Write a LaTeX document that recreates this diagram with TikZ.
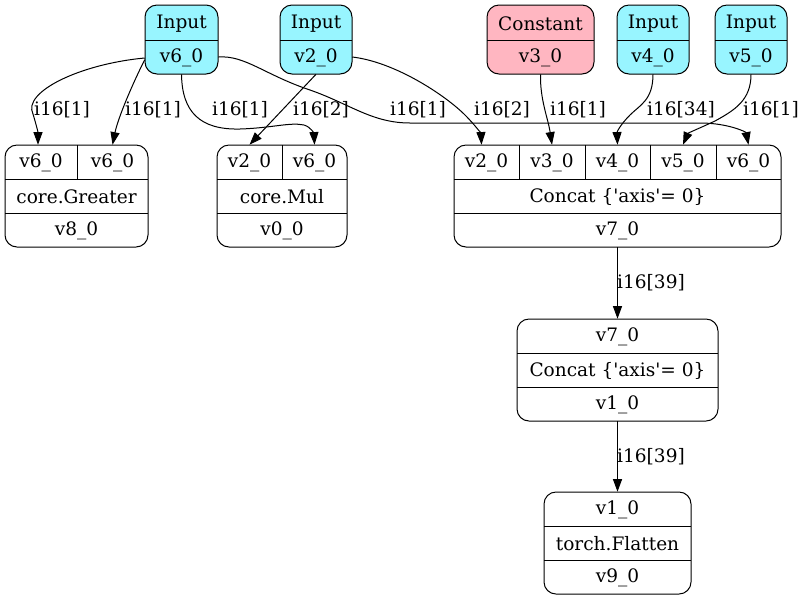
\documentclass[tikz,border=0pt]{standalone}
\usepackage{fontspec}
\setmainfont{DejaVu Serif}
\usetikzlibrary{fit,arrows.meta}

\definecolor{inputfill}{HTML}{98F5FF}
\definecolor{constfill}{HTML}{FFB6C1}

\newcommand{\cellfont}{\fontsize{13.9}{16}\selectfont}
\newcommand{\sq}{\textquotesingle}

\tikzset{
  box/.style={draw, line width=0.75pt, rounded corners=9pt, inner sep=0pt},
  cell/.style={inner sep=0pt, label={[inner sep=0pt, font=\cellfont, yshift=-0.6pt]center:#1}},
  lbl/.style={inner sep=0pt, font=\cellfont},
  sep/.style={line width=0.75pt},
  edge/.style={line width=0.75pt, -{Triangle[length=9.5pt,width=6.8pt]}},
}

\begin{document}
\begin{tikzpicture}[x=0.75pt,y=-0.75pt]
\useasboundingbox (0,0) rectangle (805,601);

% ---------- source nodes ----------
% Input v6_0
\node[box, fill=inputfill, fit={(145,5)(218,74)}] (in6) {};
\draw[sep] (145,40) -- (218,40);
\node[cell=Input, fit={(145,5)(218,40)}] (in6h) {};
\node[cell=v6\_0, fit={(145,40)(218,74)}] (in6v) {};

% Input v2_0
\node[box, fill=inputfill, fit={(280,5)(352,74)}] (in2) {};
\draw[sep] (280,40) -- (352,40);
\node[cell=Input, fit={(280,5)(352,40)}] (in2h) {};
\node[cell=v2\_0, fit={(280,40)(352,74)}] (in2v) {};

% Constant v3_0
\node[box, fill=constfill, fit={(487,5)(594,74)}] (cst) {};
\draw[sep] (487,40) -- (594,40);
\node[cell=Constant, fit={(487,5)(594,40)}] (csth) {};
\node[cell=v3\_0, fit={(487,40)(594,74)}] (cstv) {};

% Input v4_0
\node[box, fill=inputfill, fit={(617,5)(689,74)}] (in4) {};
\draw[sep] (617,40) -- (689,40);
\node[cell=Input, fit={(617,5)(689,40)}] (in4h) {};
\node[cell=v4\_0, fit={(617,40)(689,74)}] (in4v) {};

% Input v5_0
\node[box, fill=inputfill, fit={(715,5)(787,74)}] (in5) {};
\draw[sep] (715,40) -- (787,40);
\node[cell=Input, fit={(715,5)(787,40)}] (in5h) {};
\node[cell=v5\_0, fit={(715,40)(787,74)}] (in5v) {};

% ---------- core.Greater ----------
\node[box, fit={(5,145)(148,247)}] (gt) {};
\draw[sep] (5,179) -- (148,179) (5,213) -- (148,213) (77,145) -- (77,179);
\node[cell=v6\_0, fit={(5,145)(77,179)}] (gt1) {};
\node[cell=v6\_0, fit={(77,145)(148,179)}] (gt2) {};
\node[cell=core.Greater, fit={(5,179)(148,213)}] (gtop) {};
\node[cell=v8\_0, fit={(5,213)(148,247)}] (gtout) {};

% ---------- core.Mul ----------
\node[box, fit={(217,145)(347,247)}] (mul) {};
\draw[sep] (217,179) -- (347,179) (217,213) -- (347,213) (282,145) -- (282,179);
\node[cell=v2\_0, fit={(217,145)(282,179)}] (mul1) {};
\node[cell=v6\_0, fit={(282,145)(347,179)}] (mul2) {};
\node[cell=core.Mul, fit={(217,179)(347,213)}] (mulop) {};
\node[cell=v0\_0, fit={(217,213)(347,247)}] (mulout) {};

% ---------- first Concat ----------
\node[box, fit={(454,145)(781,247)}] (cc) {};
\draw[sep] (454,179) -- (781,179) (454,213) -- (781,213)
  (519,145) -- (519,179) (585,145) -- (585,179)
  (650,145) -- (650,179) (716,145) -- (716,179);
\node[cell=v2\_0, fit={(454,145)(519,179)}] (cc1) {};
\node[cell=v3\_0, fit={(519,145)(585,179)}] (cc2) {};
\node[cell=v4\_0, fit={(585,145)(650,179)}] (cc3) {};
\node[cell=v5\_0, fit={(650,145)(716,179)}] (cc4) {};
\node[cell=v6\_0, fit={(716,145)(781,179)}] (cc5) {};
\node[cell={Concat \{\sq axis\sq= 0\}}, fit={(454,179)(781,213)}] (ccop) {};
\node[cell=v7\_0, fit={(454,213)(781,247)}] (ccout) {};

% ---------- second Concat ----------
\node[box, fit={(517,319)(718,421)}] (cb) {};
\draw[sep] (517,353) -- (718,353) (517,387) -- (718,387);
\node[cell=v7\_0, fit={(517,319)(718,353)}] (cbin) {};
\node[cell={Concat \{\sq axis\sq= 0\}}, fit={(517,353)(718,387)}] (cbop) {};
\node[cell=v1\_0, fit={(517,387)(718,421)}] (cbout) {};

% ---------- torch.Flatten ----------
\node[box, fit={(544,492)(691,594)}] (fl) {};
\draw[sep] (544,526) -- (691,526) (544,560) -- (691,560);
\node[cell=v1\_0, fit={(544,492)(691,526)}] (flin) {};
\node[cell=torch.Flatten, fit={(544,526)(691,560)}] (flop) {};
\node[cell=v9\_0, fit={(544,560)(691,594)}] (flout) {};

% ---------- connectors ----------
\draw[edge] ([yshift=-0.75pt]in6v.west) .. controls (80,64) and (22,92) .. (33,114)
  .. controls (36,124) and (38,132) .. ([xshift=-2.25pt]gt1.north);
\draw[edge] ([yshift=-2pt]in6v.west) .. controls (132,85) and (118,118) .. (gt2.north);
\draw[edge] (in6v.south) .. controls (182,112) and (200,130) .. (240,129)
  .. controls (272,128) and (290,122) .. (304,125)
  .. controls (311,127) and (314,134) .. (mul2.north);
\draw[edge] (in2v.south) -- (mul1.north);
\draw[edge] (in6v.east) .. controls (245,55) and (265,75) .. (310,90)
  .. controls (350,104) and (372,123) .. (410,123) -- (700,123)
  .. controls (728,123) and (746,132) .. (cc5.north);
\draw[edge] (in2v.east) .. controls (395,62) and (445,95) .. (465,115)
  .. controls (476,126) and (481,134) .. ([xshift=-3.75pt]cc1.north);
\draw[edge] (cstv.south) .. controls (540,100) and (548,118) .. (cc2.north);
\draw[edge] (in4v.south) .. controls (653,100) and (640,105) .. (630,115)
  .. controls (620,125) and (617,132) .. (cc3.north);
\draw[edge] (in5v.south) .. controls (751,100) and (735,110) .. (715,121)
  .. controls (700,128) and (688,133) .. (cc4.north);
\draw[edge] (ccout.south) -- (cbin.north);
\draw[edge] (cbout.south) -- (flin.north);

% ---------- connector labels ----------
\node[lbl] (l1) at (62,110) {i16[1]};
\node[lbl] (l2) at (153,110) {i16[1]};
\node[lbl] (l3) at (240,110) {i16[1]};
\node[lbl] (l4) at (321,110) {i16[2]};
\node[lbl] (l5) at (418,110) {i16[1]};
\node[lbl] (l6) at (502,110) {i16[2]};
\node[lbl] (l7) at (578,110) {i16[1]};
\node[lbl] (l8) at (681,110) {i16[34]};
\node[lbl] (l9) at (771,110) {i16[1]};
\node[lbl] (l10) at (651,283) {i16[39]};
\node[lbl] (l11) at (651,457) {i16[39]};
\end{tikzpicture}
\end{document}
